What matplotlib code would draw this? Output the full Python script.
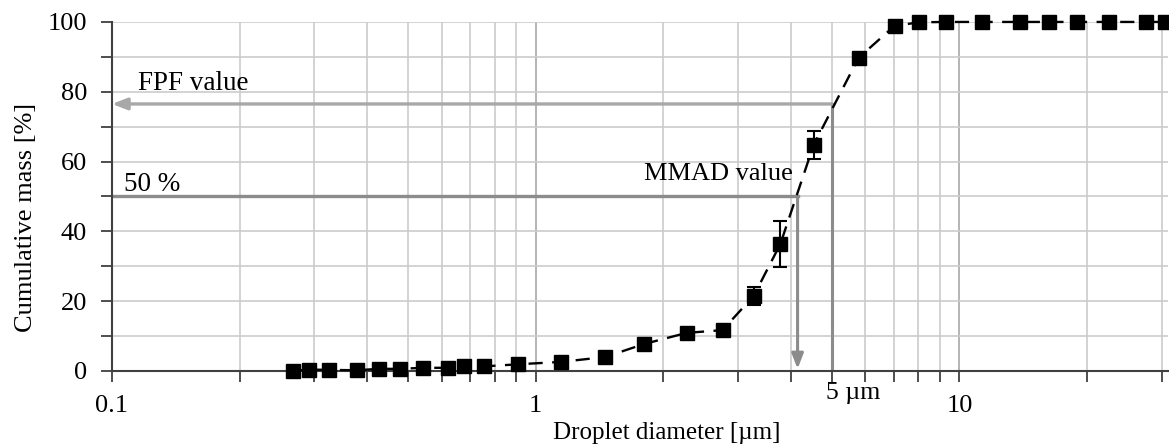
from matplotlib import pyplot as plt
from matplotlib.ticker import LogLocator, FixedLocator, NullFormatter
import numpy as np

# droplet size distribution
diameter = [0.267, 0.292, 0.325, 0.378, 0.426, 0.478, 0.541, 0.620, 0.676, 0.754,
            0.907, 1.15, 1.46, 1.80, 2.27, 2.76, 3.27, 3.78, 4.53, 5.78,
            7.03, 8.05, 9.31, 11.3, 13.9, 16.3, 18.9, 22.5, 27.6, 30.6]
cum_mass = [0, 0.4, 0.3, 0.2, 0.6, 0.6, 0.9, 0.9, 1.3, 1.3,
            1.9, 2.6, 4.0, 7.7, 10.9, 11.7, 21.5, 36.4, 64.8, 89.7,
            98.9, 99.9, 100, 100, 100, 100, 100, 100, 100, 100]
cum_err = [0, 0, 0, 0, 0, 0, 0, 0, 0, 0,
           0, 0, 0, 0, 0, 1.5, 2.5, 6.5, 4.0, 1.0,
           0, 0, 0, 0, 0, 0, 0, 0, 0, 0]

fpf_cut = 5.0       # µm
fpf_value = 76.5    # %
mmad_value = 4.15   # µm

plt.rcParams['font.family'] = ['Liberation Serif', 'DejaVu Serif']

fig = plt.figure(figsize=(11.69, 4.48), dpi=100)
ax = fig.add_axes([0.0958, 0.172, 0.903, 0.779])

ax.set_xscale('log')
ax.set_xlim(0.1, 31)
ax.set_ylim(0, 100)

# grid
ax.xaxis.set_minor_locator(LogLocator(base=10, subs=np.arange(2, 10)))
ax.xaxis.set_minor_formatter(NullFormatter())
ax.set_xticks([0.1, 1, 10])
ax.set_xticklabels(['0.1', '1', '10'])
ax.set_yticks(np.arange(0, 101, 20))
ax.yaxis.set_minor_locator(FixedLocator(np.arange(10, 100, 20)))
ax.grid(True, which='minor', axis='x', color='#cccccc', lw=1.2)
ax.grid(True, which='major', axis='x', color='#a8a8a8', lw=1.2)
ax.grid(True, which='both', axis='y', color='#cccccc', lw=1.2)
ax.set_axisbelow(True)

for s in ['top', 'right']:
    ax.spines[s].set_visible(False)
for s in ['left', 'bottom']:
    ax.spines[s].set_color('#404040')
    ax.spines[s].set_linewidth(1.5)
ax.tick_params(which='both', direction='out', length=8, width=1.3, color='#404040')
ax.tick_params(axis='x', which='major', labelsize=19, pad=9)
ax.tick_params(axis='y', which='major', labelsize=19, pad=10)

# helper lines
ax.plot([fpf_cut, fpf_cut], [0, fpf_value], color='#8c8c8c', lw=2.2, zorder=2)
ax.annotate('', xy=(0.1, fpf_value), xytext=(fpf_cut, fpf_value),
            arrowprops=dict(arrowstyle='-|>,head_length=0.9,head_width=0.35',
                            color='#a8a8a8', lw=2.4, shrinkA=0, shrinkB=0), zorder=2)
ax.plot([0.1, mmad_value], [50, 50], color='#8c8c8c', lw=2.4, zorder=2)
ax.annotate('', xy=(mmad_value, 0.6), xytext=(mmad_value, 50),
            arrowprops=dict(arrowstyle='-|>,head_length=0.9,head_width=0.35',
                            color='#8c8c8c', lw=2.2, shrinkA=0, shrinkB=0), zorder=2)

# data
ax.errorbar(diameter, cum_mass, yerr=cum_err, fmt='s', color='black', ms=9.5,
            ecolor='black', elinewidth=1.5, capsize=5, capthick=1.5,
            zorder=4, clip_on=False)
ax.plot(diameter, cum_mass, color='black', lw=1.7, dashes=(6, 4), zorder=3,
        clip_on=False)

ax.text(0.115, 82.5, 'FPF value', fontsize=19.5, va='center', ha='left')
ax.text(0.107, 53.5, '50 %', fontsize=19.5, va='center', ha='left')
ax.text(4.05, 56.3, 'MMAD value', fontsize=19, va='center', ha='right')
ax.text(4.85, -6.2, '5 µm', fontsize=18.5, va='center', ha='left')

ax.set_xlabel('Droplet diameter [µm]', fontsize=18)
ax.xaxis.set_label_coords(0.526, -0.145)
ax.set_ylabel('Cumulative mass [%]', fontsize=19)
ax.yaxis.set_label_coords(-0.071, 0.44)

fig.savefig('out.png', dpi=100)
